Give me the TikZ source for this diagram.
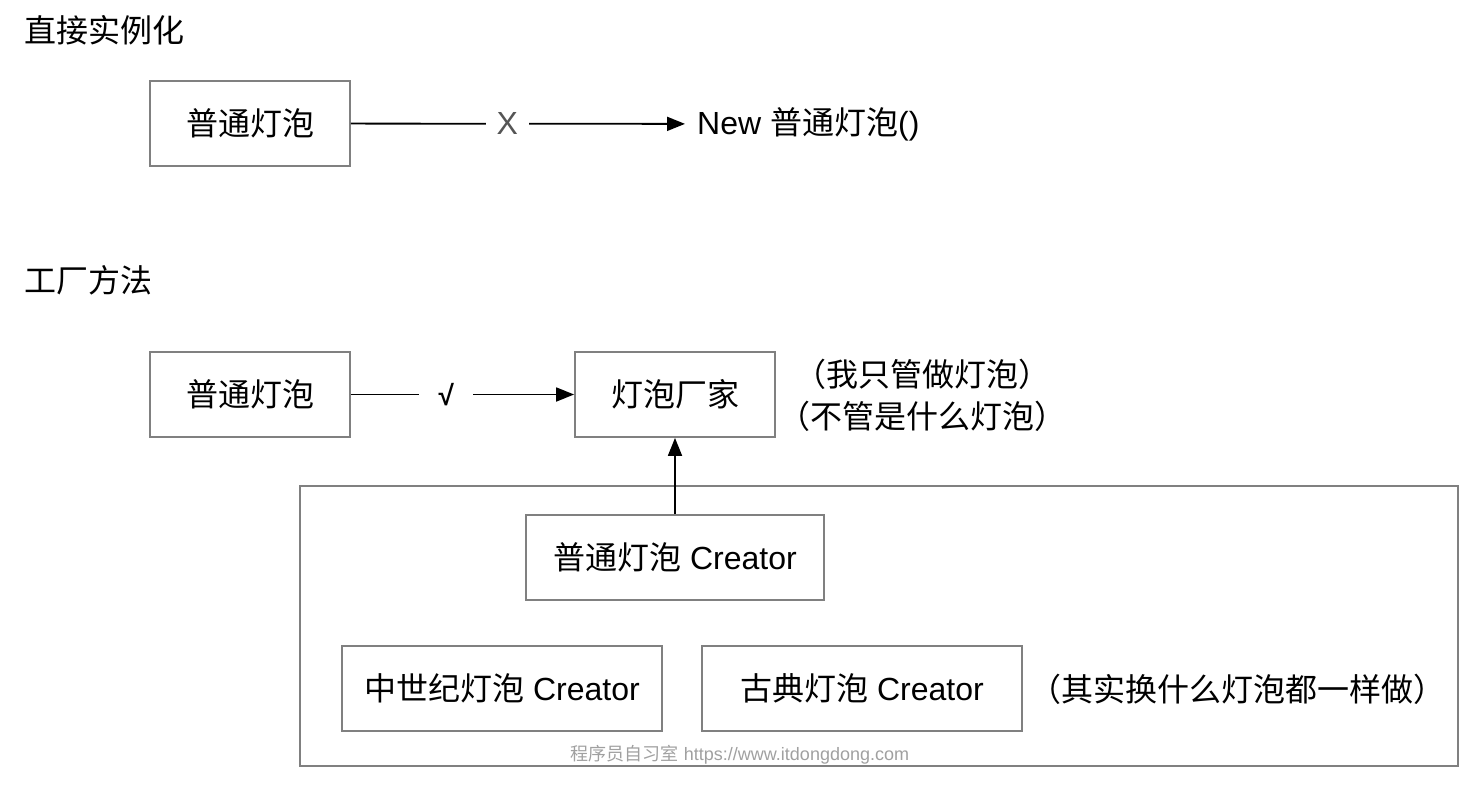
\documentclass[tikz,border=0pt]{standalone}
\usepackage{fontspec}
\setmainfont{Liberation Sans}
\newfontfamily\cjk{Noto Sans CJK SC}
\usetikzlibrary{arrows.meta}
\definecolor{boxgray}{HTML}{808080}
\definecolor{labgray}{HTML}{555555}
\definecolor{wmgray}{HTML}{A0A0A0}
\tikzset{
  txt/.style={font=\fontsize{32}{42}\selectfont, inner sep=0pt},
  box/.style={draw=boxgray, line width=1.8pt, font=\fontsize{32}{38}\selectfont, minimum height=85pt, inner sep=0pt},
  conn/.style={line width=1.8pt, -{Triangle[length=18pt,width=14pt]}},
  lab/.style={fill=white, inner sep=0pt, font=\fontsize{32}{38}\selectfont}
}
\begin{document}
\begin{tikzpicture}[x=1pt,y=-1pt]
\useasboundingbox (0,0) rectangle (1480,786);
% section 1
\node[txt, anchor=west] (t1) at (24,30) {\cjk 直接实例化};
\node[box, minimum width=200pt] (b1) at (250,123.5) {\cjk 普通灯泡};
\node[txt, anchor=west, inner xsep=12pt] (new) at (685,124) {New {\cjk 普通灯泡}()};
\draw[conn] (b1) -- node[lab, pos=0.468, minimum width=43pt, text=labgray] (x) {X} (new);
% section 2
\node[txt, anchor=west] (t2) at (24,280) {\cjk 工厂方法};
\node[box, minimum width=200pt] (b2) at (250,394.5) {\cjk 普通灯泡};
\node[box, minimum width=200pt] (fac) at (675,394.5) {\cjk 灯泡厂家};
\draw[conn] (b2) -- node[lab, pos=0.427, minimum width=54pt, font=\fontsize{28}{32}\selectfont\bfseries] (ok) {√} (fac);
\node[txt, align=center] (n1) at (922,395) {\cjk （我只管做灯泡）\\\cjk （不管是什么灯泡）};
% container
\node[draw=boxgray, line width=1.8pt, minimum width=1158pt, minimum height=280pt, inner sep=0pt] (cont) at (879,626) {};
\node[box, minimum width=298pt] (c1) at (675,557.5) {{\cjk 普通灯泡} Creator};
\node[box, minimum width=320pt] (c2) at (502,688.5) {{\cjk 中世纪灯泡} Creator};
\node[box, minimum width=320pt] (c3) at (862,688.5) {{\cjk 古典灯泡} Creator};
\node[txt] (n2) at (1237,689) {\cjk （其实换什么灯泡都一样做）};
\draw[conn] (c1) -- (fac);
\node[inner sep=0pt, text=wmgray, font=\fontsize{18}{21}\selectfont] (wm) at (740,755) {{\cjk 程序员自习室} https://www.itdongdong.com};
\end{tikzpicture}
\end{document}
